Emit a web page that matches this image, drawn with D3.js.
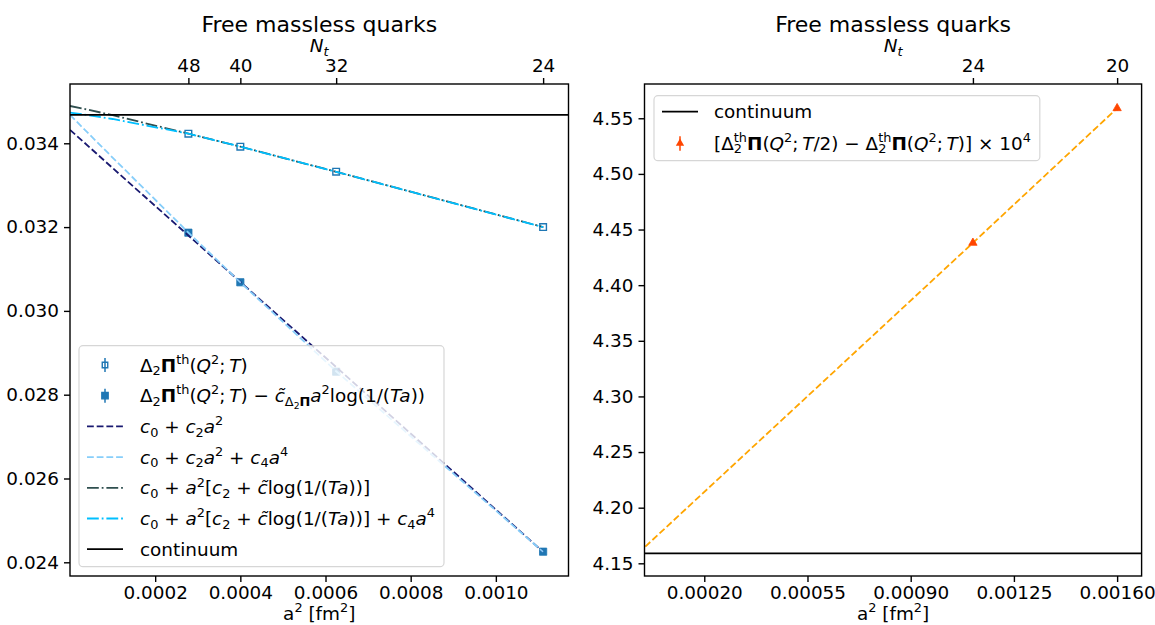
<!DOCTYPE html>
<html>
<head>
<meta charset="utf-8">
<script src="https://cdn.jsdelivr.net/npm/d3@7"></script>
<style>
body { margin: 0; background: #fff; }
svg text { font-family: "DejaVu Sans"; fill: #000; }
</style>
</head>
<body>
<div id="chart"></div>
<script>
// ---- data ----
// left panel: a^2 of the lattices and their N_t
var a2_left       = [0.000278, 0.0004, 0.000625, 0.001111];
var nt_left       = [48, 40, 32, 24];
var pi_th         = [0.034229, 0.033919, 0.033322, 0.032000];
var pi_th_err     = [0.00001, 0.00001, 0.00001, 0.00001];
var pi_sub        = [0.031866, 0.030683, 0.028549, 0.024253];
var pi_sub_err    = [0.00002, 0.00002, 0.00002, 0.00002];
// fit curves, sampled at these a^2 values
var fit_a2        = [0, 0.00003, 0.0001, 0.000278, 0.0004, 0.000625, 0.001111];
var fit_c2        = [0.03432, 0.03405, 0.03341, 0.03180, 0.03069, 0.02866, 0.02425];
var fit_c2_c4     = [0.03468, 0.03437, 0.03366, 0.03187, 0.03068, 0.02856, 0.02425];
var fit_log       = [0.03489, 0.03483, 0.03467, 0.03423, 0.03392, 0.03332, 0.03200];
var fit_log_c4    = [0.03473, 0.03469, 0.03458, 0.03423, 0.03392, 0.03332, 0.03200];
var continuum_left = 0.034676;
var xticks_left   = [0.0002, 0.0004, 0.0006, 0.0008, 0.0010];
var yticks_left   = [0.024, 0.026, 0.028, 0.030, 0.032, 0.034];

// right panel
var a2_right      = [0.001111, 0.0016];
var nt_right      = [24, 20];
var diff          = [4.438, 4.559];
var diff_err      = [0.002, 0.002];
var fit_right_a2  = [0, 0.001111, 0.0016];
var fit_right     = [4.165, 4.438, 4.559];
var continuum_right = 4.159;
var xticks_right  = [0.0002, 0.00055, 0.0009, 0.00125, 0.0016];
var yticks_right  = [4.15, 4.20, 4.25, 4.30, 4.35, 4.40, 4.45, 4.50, 4.55];

var title_text = "Free massless quarks";

// ---- legend labels (mathtext pieces: text, position, style, stacked) ----
var lbl_pi = [["Δ"], ["2", "sub"], ["Π", "", "b"], ["th", "sup"], ["("], ["Q", "", "i"], ["2", "sup"],
  [";\u2009"], ["T", "", "i"], [")"]];
var lbl_pi_sub = lbl_pi.concat([[" − "], ["c\u0303", "", "i"], ["Δ", "sub"], ["2", "sub2"], ["Π", "sub", "b"],
  ["a", "", "i"], ["2", "sup"], ["log(1/("], ["Ta", "", "i"], ["))"]]);
var lbl_c2 = [["c", "", "i"], ["0", "sub"], [" + "], ["c", "", "i"], ["2", "sub"], ["a", "", "i"], ["2", "sup"]];
var lbl_c2_c4 = lbl_c2.concat([[" + "], ["c", "", "i"], ["4", "sub"], ["a", "", "i"], ["4", "sup"]]);
var lbl_log = [["c", "", "i"], ["0", "sub"], [" + "], ["a", "", "i"], ["2", "sup"], ["["], ["c", "", "i"], ["2", "sub"],
  [" + "], ["c\u0303", "", "i"], ["log(1/("], ["Ta", "", "i"], ["))]"]];
var lbl_log_c4 = lbl_log.concat([[" + "], ["c", "", "i"], ["4", "sub"], ["a", "", "i"], ["4", "sup"]]);
var lbl_cont = [["continuum"]];
var lbl_diff = [["["], ["Δ"], ["th", "sup"], ["2", "sub", "", 1], ["Π", "", "b"], ["("], ["Q", "", "i"], ["2", "sup"],
  [";\u2009"], ["T", "", "i"], ["/2) − Δ"], ["th", "sup"], ["2", "sub", "", 1], ["Π", "", "b"], ["("], ["Q", "", "i"],
  ["2", "sup"], [";\u2009"], ["T", "", "i"], [")] × 10"], ["4", "sup"]];

var W = 1155, H = 625;
var fs = 18.4;
var blue = "#1f77b4";

var svg = d3.select("#chart").append("svg").attr("width", W).attr("height", H);

// place a label made of pieces, return its width
function math_label (g, x, y, segs, size, anchor) {
  var grp = g.append("g");
  var cx = 0, px = 0, pw = 0;
  segs.forEach(function (s) {
    var pos = s[1] || "", sty = s[2] || "", over = s[3];
    var k = pos === "" ? 1 : (pos === "sub2" ? 0.5 : 0.7);
    var dy = pos === "sup" ? -0.42 * size : (pos === "sub" ? 0.2 * size : (pos === "sub2" ? 0.36 * size : 0));
    var t = grp.append("text")
      .attr("x", over ? px : cx)
      .attr("y", dy)
      .attr("xml:space", "preserve")
      .style("white-space", "pre")
      .style("font-size", (size * k) + "px")
      .style("font-style", sty.indexOf("i") >= 0 ? "italic" : "normal")
      .style("font-weight", sty.indexOf("b") >= 0 ? "bold" : "normal")
      .text(s[0]);
    var w = t.node().getComputedTextLength();
    if (over) {
      cx = px + Math.max(pw, w);
    } else {
      px = cx; pw = w; cx += w;
    }
  });
  var shift = anchor === "middle" ? -cx / 2 : 0;
  grp.attr("transform", "translate(" + (x + shift) + "," + y + ")");
  return cx;
}

function style_axis (sel) {
  sel.attr("font-size", null).attr("font-family", null);
  sel.select(".domain").remove();
  sel.selectAll(".tick line").attr("stroke", "#000").attr("stroke-width", 1.4);
  sel.selectAll(".tick text").style("font-size", fs + "px");
}

function draw_panel (box, xdom, ydom, xticks, xfmt, yticks, yfmt, top_vals, top_labels, id) {
  var x = d3.scaleLinear().domain(xdom).range([box.left, box.right]);
  var y = d3.scaleLinear().domain(ydom).range([box.bottom, box.top]);
  var cx = (box.left + box.right) / 2;

  svg.append("clipPath").attr("id", id)
    .append("rect")
    .attr("x", box.left).attr("y", box.top)
    .attr("width", box.right - box.left).attr("height", box.bottom - box.top);

  svg.append("g")
    .attr("transform", "translate(0," + box.bottom + ")")
    .call(d3.axisBottom(x).tickValues(xticks).tickFormat(d3.format(xfmt)).tickSize(6).tickPadding(4))
    .call(style_axis);
  svg.append("g")
    .attr("transform", "translate(" + box.left + ",0)")
    .call(d3.axisLeft(y).tickValues(yticks).tickFormat(d3.format(yfmt)).tickSize(6).tickPadding(5))
    .call(style_axis);
  svg.append("g")
    .attr("transform", "translate(0," + box.top + ")")
    .call(d3.axisTop(x).tickValues(top_vals).tickFormat(function (d, i) { return top_labels[i]; })
      .tickSize(6).tickPadding(6))
    .call(style_axis);

  math_label(svg, cx, 620, [["a"], ["2", "sup"], [" [fm"], ["2", "sup"], ["]"]], fs, "middle");
  math_label(svg, cx, 52, [["N", "", "i"], ["t", "sub", "i"]], fs, "middle");
  svg.append("text")
    .attr("x", cx).attr("y", 32)
    .attr("text-anchor", "middle")
    .style("font-size", "22px")
    .text(title_text);

  var plot = svg.append("g").attr("clip-path", "url(#" + id + ")");
  return { x: x, y: y, plot: plot };
}

function draw_frame (box) {
  svg.append("rect")
    .attr("x", box.left).attr("y", box.top)
    .attr("width", box.right - box.left).attr("height", box.bottom - box.top)
    .attr("fill", "none").attr("stroke", "#000").attr("stroke-width", 1.4);
}

function draw_line (p, xs, ys, color, dash, lw) {
  var line = d3.line()
    .x(function (d, i) { return p.x(xs[i]); })
    .y(function (d) { return p.y(d); });
  p.plot.append("path")
    .datum(ys)
    .attr("d", line)
    .attr("fill", "none")
    .attr("stroke", color)
    .attr("stroke-width", lw || 1.8)
    .attr("stroke-dasharray", dash);
}

function draw_hline (p, v) {
  var xd = p.x.domain();
  p.plot.append("line")
    .attr("x1", p.x(xd[0])).attr("x2", p.x(xd[1]))
    .attr("y1", p.y(v)).attr("y2", p.y(v))
    .attr("stroke", "#000").attr("stroke-width", 1.8);
}

function draw_points (p, xs, ys, es, sym, size, color, filled) {
  var g = p.plot.append("g");
  g.selectAll("line.err")
    .data(ys)
    .join("line")
    .attr("class", "err")
    .attr("x1", function (d, i) { return p.x(xs[i]); })
    .attr("x2", function (d, i) { return p.x(xs[i]); })
    .attr("y1", function (d, i) { return p.y(d - es[i]); })
    .attr("y2", function (d, i) { return p.y(d + es[i]); })
    .attr("stroke", color).attr("stroke-width", 1.5);
  g.selectAll("path.pt")
    .data(ys)
    .join("path")
    .attr("class", "pt")
    .attr("d", d3.symbol().type(sym).size(size))
    .attr("transform", function (d, i) { return "translate(" + p.x(xs[i]) + "," + p.y(d) + ")"; })
    .attr("fill", filled ? color : "none")
    .attr("stroke", color)
    .attr("stroke-width", filled ? 0.8 : 1.4);
}

var dashed  = "6.8,2.9";
var dashdot = "11.8,2.9,1.8,2.9";

// ---- left panel ----
var box_l = { left: 70, right: 568.5, top: 84, bottom: 576 };
var pl = draw_panel(box_l, [0, 0.0011706], [0.023673, 0.035415], xticks_left, ".4f", yticks_left, ".3f",
  a2_left, nt_left, "clip_l");

draw_points(pl, a2_left, pi_th, pi_th_err, d3.symbolSquare, 44, blue, false);
draw_points(pl, a2_left, pi_sub, pi_sub_err, d3.symbolSquare, 52, blue, true);
draw_line(pl, fit_a2, fit_c2, "#191970", dashed);
draw_line(pl, fit_a2, fit_c2_c4, "#87cefa", dashed);
draw_line(pl, fit_a2, fit_log, "#2f4f4f", dashdot);
draw_line(pl, fit_a2, fit_log_c4, "#00bfff", dashdot);
draw_hline(pl, continuum_left);
draw_frame(box_l);

// left legend
var leg_l = svg.append("g");
var leg_l_bg = leg_l.append("rect");
var rows_l = [lbl_pi, lbl_pi_sub, lbl_c2, lbl_c2_c4, lbl_log, lbl_log_c4, lbl_cont];
var styles_l = [
  { pt: "open" }, { pt: "filled" },
  { c: "#191970", d: dashed }, { c: "#87cefa", d: dashed },
  { c: "#2f4f4f", d: dashdot }, { c: "#00bfff", d: dashdot },
  { c: "#000", d: null }
];
var lx = box_l.left + 9, ly = 345.7, row_h = 30.7, maxw = 0;
rows_l.forEach(function (r, i) {
  var cy = ly + 19.3 + i * row_h;
  var st = styles_l[i];
  if (st.pt) {
    leg_l.append("line").attr("x1", lx + 26).attr("x2", lx + 26).attr("y1", cy - 7).attr("y2", cy + 7)
      .attr("stroke", blue).attr("stroke-width", 1.5);
    leg_l.append("path").attr("d", d3.symbol().type(d3.symbolSquare).size(st.pt === "open" ? 30 : 40))
      .attr("transform", "translate(" + (lx + 26) + "," + cy + ")")
      .attr("fill", st.pt === "open" ? "none" : blue).attr("stroke", blue).attr("stroke-width", 1.4);
  } else {
    leg_l.append("line").attr("x1", lx + 8).attr("x2", lx + 44).attr("y1", cy).attr("y2", cy)
      .attr("stroke", st.c).attr("stroke-width", 1.8).attr("stroke-dasharray", st.d);
  }
  var w = math_label(leg_l, lx + 61, cy + 6.5, r, fs, "start");
  maxw = Math.max(maxw, w);
});
leg_l_bg.attr("x", lx).attr("y", ly).attr("rx", 4)
  .attr("width", 61 + maxw + 9).attr("height", 221)
  .attr("fill", "#fff").attr("fill-opacity", 0.8)
  .attr("stroke", "#ccc").attr("stroke-opacity", 0.8).attr("stroke-width", 1.2);

// ---- right panel ----
var box_r = { left: 644.5, right: 1141.6, top: 84, bottom: 576 };
var pr = draw_panel(box_r, [-0.0000027, 0.001683], [4.1386, 4.5808], xticks_right, ".5f", yticks_right, ".2f",
  a2_right, nt_right, "clip_r");

draw_hline(pr, continuum_right);
draw_line(pr, fit_right_a2, fit_right, "#ffa500", dashed);
draw_points(pr, a2_right, diff, diff_err, d3.symbolTriangle, 30, "#ff4500", true);
draw_frame(box_r);

// right legend
var leg_r = svg.append("g");
var leg_r_bg = leg_r.append("rect");
var rx0 = box_r.left + 9.5, ry0 = 95.7;
leg_r.append("line").attr("x1", rx0 + 8).attr("x2", rx0 + 44).attr("y1", ry0 + 16).attr("y2", ry0 + 16)
  .attr("stroke", "#000").attr("stroke-width", 1.8);
var w1 = math_label(leg_r, rx0 + 60, ry0 + 22.5, lbl_cont, fs, "start");
leg_r.append("line").attr("x1", rx0 + 26).attr("x2", rx0 + 26).attr("y1", ry0 + 40.5).attr("y2", ry0 + 55)
  .attr("stroke", "#ff4500").attr("stroke-width", 1.5);
leg_r.append("path").attr("d", d3.symbol().type(d3.symbolTriangle).size(30))
  .attr("transform", "translate(" + (rx0 + 26) + "," + (ry0 + 47.6) + ")")
  .attr("fill", "#ff4500");
var w2 = math_label(leg_r, rx0 + 60, ry0 + 54, lbl_diff, fs, "start");
leg_r_bg.attr("x", rx0).attr("y", ry0).attr("rx", 4)
  .attr("width", 60 + Math.max(w1, w2) + 9).attr("height", 65)
  .attr("fill", "#fff").attr("fill-opacity", 0.8)
  .attr("stroke", "#ccc").attr("stroke-opacity", 0.8).attr("stroke-width", 1.2);
</script>
</body>
</html>
